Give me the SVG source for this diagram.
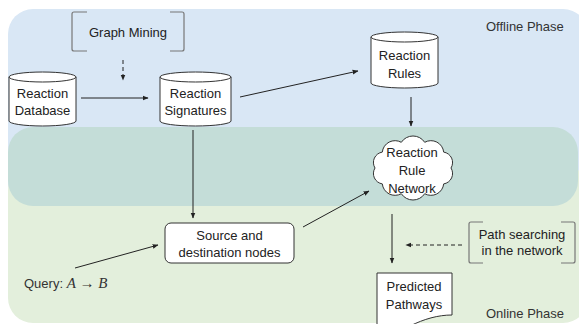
<svg xmlns="http://www.w3.org/2000/svg" width="579" height="324" viewBox="0 0 579 324">
  <defs>
    <marker id="arrow" viewBox="0 0 10 10" refX="9" refY="5" markerWidth="6" markerHeight="6" markerUnits="userSpaceOnUse" orient="auto">
      <path d="M0,1 L10,5 L0,9 Z" fill="#222"/>
    </marker>
    <style>
      .lbl { font-family: "Liberation Sans", Arial, sans-serif; font-size: 13px; fill: #222; text-anchor: middle; }
      .phase { font-family: "Liberation Sans", Arial, sans-serif; font-size: 13px; fill: #333; }
      .shape { fill: #ffffff; stroke: #333; stroke-width: 1; }
      .bracket { fill: none; stroke: #777; stroke-width: 1.2; }
      .edge { fill: none; stroke: #222; stroke-width: 1; marker-end: url(#arrow); }
      .dash { stroke-dasharray: 4 3; }
      .math { font-family: "Liberation Serif", "Times New Roman", serif; font-size: 15px; }
    </style>
  </defs>

  <!-- phase backgrounds -->
  <g id="backgrounds">
    <rect x="8" y="9" width="580" height="200" rx="25" fill="#d9e7f5"/>
    <rect x="8" y="165" width="580" height="158" rx="25" fill="#e3efdc"/>
    <rect x="8" y="127" width="570" height="79" rx="25" fill="#c4ddd8"/>
    <text class="phase" x="486" y="31">Offline Phase</text>
    <text class="phase" x="486" y="318">Online Phase</text>
  </g>

  <!-- connectors -->
  <g id="connectors">
    <line class="edge dash" x1="123" y1="60" x2="123" y2="80"/>
    <line class="edge" x1="81" y1="98" x2="148" y2="98"/>
    <line class="edge" x1="240" y1="97" x2="358" y2="71"/>
    <line class="edge" x1="411" y1="97" x2="411" y2="126"/>
    <line class="edge" x1="193" y1="130" x2="193" y2="218"/>
    <line class="edge" x1="75" y1="268" x2="158" y2="245"/>
    <line class="edge" x1="303" y1="227" x2="369" y2="191"/>
    <line class="edge" x1="392" y1="214" x2="392" y2="263"/>
    <line class="edge dash" x1="462" y1="245" x2="406" y2="245"/>
  </g>

  <!-- Graph Mining -->
  <g id="graph-mining">
    <path class="bracket" d="M87,12 H74 Q72,12 72,14 V49 Q72,51 74,51 H87"/>
    <path class="bracket" d="M170,12 H182 Q184,12 184,14 V49 Q184,51 182,51 H170"/>
    <text class="lbl" x="128" y="37">Graph Mining</text>
  </g>

  <!-- Reaction Database -->
  <g id="reaction-database">
    <path class="shape" d="M9,77 A33.5,5 0 0 1 76,77 V121 A33.5,5 0 0 1 9,121 Z"/>
    <path class="shape" d="M9,77 A33.5,5 0 0 0 76,77" fill="none"/>
    <text class="lbl" x="42.5" y="98">Reaction</text>
    <text class="lbl" x="42.5" y="115">Database</text>
  </g>

  <!-- Reaction Signatures -->
  <g id="reaction-signatures">
    <path class="shape" d="M160,77 A35.5,5 0 0 1 231,77 V121 A35.5,5 0 0 1 160,121 Z"/>
    <path class="shape" d="M160,77 A35.5,5 0 0 0 231,77" fill="none"/>
    <text class="lbl" x="195.5" y="98">Reaction</text>
    <text class="lbl" x="195.5" y="115">Signatures</text>
  </g>

  <!-- Reaction Rules -->
  <g id="reaction-rules">
    <path class="shape" d="M371,37 A33.5,5 0 0 1 438,37 V83 A33.5,5 0 0 1 371,83 Z"/>
    <path class="shape" d="M371,37 A33.5,5 0 0 0 438,37" fill="none"/>
    <text class="lbl" x="404.5" y="60">Reaction</text>
    <text class="lbl" x="404.5" y="78">Rules</text>
  </g>

  <!-- Reaction Rule Network (cloud) -->
  <g id="rule-network">
    <path class="shape" d="M451,168 A10.5,10.5 0 0 1 443.7,183.9 A12.8,12.8 0 0 1 424.7,193.7 A14,14 0 0 1 401.3,193.7 A12.8,12.8 0 0 1 382.3,183.9 A10.5,10.5 0 0 1 375,168 A10.5,10.5 0 0 1 382.3,152.1 A12.8,12.8 0 0 1 401.3,142.3 A14,14 0 0 1 424.7,142.3 A12.8,12.8 0 0 1 443.7,152.1 A10.5,10.5 0 0 1 451,168 Z"/>
    <text class="lbl" x="412" y="157">Reaction</text>
    <text class="lbl" x="412" y="175">Rule</text>
    <text class="lbl" x="412" y="193">Network</text>
  </g>

  <!-- Source and destination nodes -->
  <g id="source-destination">
    <rect class="shape" x="165" y="223" width="129" height="40" rx="6"/>
    <text class="lbl" x="229.5" y="240">Source and</text>
    <text class="lbl" x="229.5" y="257">destination nodes</text>
  </g>

  <!-- Query -->
  <g id="query">
    <text class="phase" x="24" y="288">Query: <tspan class="math" font-style="italic">A</tspan><tspan class="math"> → </tspan><tspan class="math" font-style="italic">B</tspan></text>
  </g>

  <!-- Path searching -->
  <g id="path-searching">
    <path class="bracket" d="M483,222 H471 Q469,222 469,224 V261 Q469,263 471,263 H483"/>
    <path class="bracket" d="M561,222 H573 Q575,222 575,224 V261 Q575,263 573,263 H561"/>
    <text class="lbl" x="522" y="239">Path searching</text>
    <text class="lbl" x="522" y="255">in the network</text>
  </g>

  <!-- Predicted Pathways -->
  <g id="predicted-pathways">
    <path class="shape" d="M377,273 H452 V315 C438,315 424,319 410,326 L377,326 Z"/>
    <text class="lbl" x="414" y="291">Predicted</text>
    <text class="lbl" x="414" y="309">Pathways</text>
  </g>
</svg>
